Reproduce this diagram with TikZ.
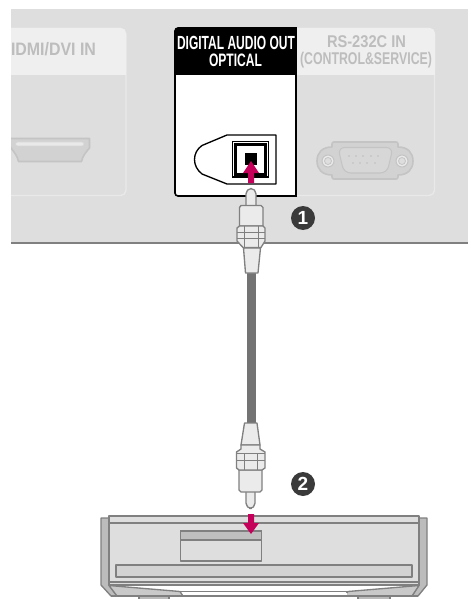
\documentclass[tikz,border=0pt]{standalone}
\usepackage{fontspec}
\usepackage{graphicx}
\setmainfont{Liberation Sans}
\newlength\pxu \setlength\pxu{0.75pt}
\newcommand{\fitw}[3]{\fontsize{#2\pxu}{#2\pxu}\selectfont\bfseries\resizebox{#1\pxu}{\height}{#3}}
\definecolor{panel}{HTML}{DEDEDE}
\definecolor{slothead}{HTML}{EFEFEF}
\definecolor{slotline}{HTML}{E9E9E9}
\definecolor{fade}{HTML}{BDBDBD}
\definecolor{fadeline}{HTML}{C4C4C4}
\definecolor{fadefill}{HTML}{D2D2D2}
\definecolor{pink}{HTML}{C4005A}
\definecolor{grayline}{HTML}{808080}
\definecolor{plugfill}{HTML}{EBEBEB}
\definecolor{sidefill}{HTML}{BCBCBC}
\definecolor{badge}{HTML}{3A3A3A}
\tikzset{
  plugpart/.style={draw=grayline,fill=plugfill,line width=1pt,line join=round},
  playerpart/.style={draw=grayline,fill=panel,line width=1pt,line join=round},
  sidepart/.style={draw=grayline,fill=sidefill,line width=1pt,line join=round},
  numbadge/.style={circle,fill=badge,text=white,minimum size=24\pxu,inner sep=0pt,font=\fontsize{19\pxu}{19\pxu}\selectfont\bfseries},
  slotlabel/.style={anchor=base,text=fade,inner sep=0pt},
  blacklabel/.style={anchor=base,text=white,inner sep=0pt},
  faded/.style={draw=fadeline,line width=1pt,line join=round},
}
\begin{document}
\begin{tikzpicture}[x=0.75pt,y=-0.75pt]
\useasboundingbox (0,0) rectangle (468,599);
% panel
\fill[panel] (11,9) rectangle (468,242);
\fill[grayline] (11,241.5) rectangle (468,243.5);
% HDMI slot
\begin{scope}
\clip (11,9) rectangle (468,242);
\draw[slotline,line width=1pt,rounded corners=4] (0,28.5) -- (126,28.5) -- (126,195.5) -- (0,195.5);
\fill[slothead,rounded corners=4] (0,28) -- (126,28) -- (126,75) -- (0,75) -- cycle;
\fill[slothead] (0,70) rectangle (126,75);
\draw[faded,fill=fadefill,line width=1.2pt] (5,138.5) -- (89.5,138.5) -- (89.5,148) .. controls (86,152) and (82.5,156) .. (81.5,161.5) -- (18.5,161.5) .. controls (17.5,156) and (14,152) .. (11,148) -- (5,138.5) -- cycle;
\draw[draw=fadeline!70,fill=slotline,line width=.6pt,rounded corners=1.5] (15.5,142) rectangle (84,146);
\end{scope}
\node[slotlabel] (hdmi) at (53.5,56) {\fitw{85}{18}{IDMI/DVI IN}};
% RS232 slot
\draw[slotline,line width=1pt,rounded corners=4] (290,28.5) -- (434.5,28.5) -- (434.5,195.5) -- (290,195.5);
\fill[slothead,rounded corners=4] (290,28) -- (435,28) -- (435,75) -- (290,75) -- cycle;
\fill[slothead] (290,70) rectangle (435,75);
\node[slotlabel] (rsone) at (366.5,48) {\fitw{79}{17}{RS-232C IN}};
\node[slotlabel] (rstwo) at (366,65) {\fitw{132}{17}{(CONTROL\&SERVICE)}};
% DB9
\draw[faded,fill=fadefill,line width=1.2pt] (332,147) .. controls (322,147) and (317,153) .. (317,161) .. controls (317,169) and (322,175) .. (332,175) -- (332,177) .. controls (332,178.5) and (333,179) .. (334,179) -- (396,179) .. controls (397,179) and (398,178.5) .. (398,177) -- (398,175) .. controls (408,175) and (413,169) .. (413,161) .. controls (413,153) and (408,147) .. (398,147) -- (398,144) .. controls (398,142.5) and (397,142) .. (396,142) -- (334,142) .. controls (333,142) and (332,142.5) .. (332,144) -- cycle;
\draw[draw=fadeline,fill=panel!97!black,line width=.8pt,rounded corners=5] (338,147.5) -- (393,147.5) -- (387,173) -- (344,173) -- cycle;
\foreach \cx in {328,402}{
  \draw[draw=fadeline,fill=slotline,line width=.8pt] (\cx,161) circle (6);
  \draw[draw=fadeline,fill=panel,line width=.6pt] (\cx,161) circle (3.5);
}
\foreach \cx in {349,356,363,371,378}{\fill[fade] (\cx,156) circle (.9);}
\foreach \cx in {353,360,367,375}{\fill[fade] (\cx,163) circle (.9);}
% digital box
\draw[black,fill=white,line width=1.2pt,line join=miter] (296,28) -- (296,196) -- (178,196) arc[start angle=90,end angle=180,radius=3] -- (175,31) arc[start angle=180,end angle=270,radius=3] -- cycle;
\fill[black] (296,28) -- (296,75) -- (175,75) -- (175,31) arc[start angle=180,end angle=270,radius=3] -- cycle;
\node[blacklabel] (diga) at (236,50) {\fitw{118}{19}{DIGITAL AUDIO OUT}};
\node[blacklabel] (digb) at (235.5,67) {\fitw{53}{18}{OPTICAL}};
% optical port
\draw[black,fill=white,line width=1pt,line join=round] (227,135) -- (276,135) -- (276,184) -- (227,184) -- (202,174) .. controls (197,170) and (194.5,165) .. (194.5,159.5) .. controls (194.5,154) and (197,149) .. (202,145.5) -- cycle;
\draw[black,fill=white,line width=.8pt] (232.5,141.5) rectangle (268.5,177);
\draw[black,fill=white,line width=1.7pt] (235.5,144.5) rectangle (265.5,174.5);
\fill[black] (245,153.5) rectangle (257,165);
% cable
\coordinate (cabletop) at (251.5,272);
\coordinate (cablebot) at (251.5,424);
\draw[draw=grayline!90!black,line width=7pt] (cabletop) -- (cablebot);
% upper plug
\draw[plugpart,rounded corners=4] (246,206) -- (246,188.5) -- (256,188.5) -- (256,206);
\draw[plugpart] (239.5,226) -- (239.5,207.5) -- (241,205.5) -- (261,205.5) -- (263,207.5) -- (263,226) -- cycle;
\draw[plugpart] (243.5,248) -- (245.5,273) -- (258,273) -- (260.5,248) -- cycle;
\draw[plugpart] (237,228) -- (239.5,226) -- (263,226) -- (265,228) -- (265,241) -- (261,247.5) -- (243,247.5) -- (237,241) -- cycle;
\draw[draw=grayline,line width=.7pt] (237,232) -- (265,232) (237,238) -- (265,238) (244,226) -- (244,247) (258,226) -- (258,247);
% lower plug
\draw[plugpart,rounded corners=4] (246,490) -- (246,508.5) -- (255,508.5) -- (255,490);
\draw[plugpart] (239,470) -- (239,490) -- (241,492) -- (260,492) -- (262,490) -- (262,470) -- cycle;
\draw[plugpart] (244.5,423) -- (241,445) -- (260,445) -- (257,423) -- cycle;
\draw[plugpart] (241,445) -- (241,449) -- (236.5,452) -- (236.5,468) -- (239,470) -- (262,470) -- (265,468) -- (265,452) -- (260,449) -- (260,445) -- cycle;
\draw[draw=grayline,line width=.7pt] (236.5,453) -- (265,453) (236.5,460) -- (265,460) (244,453) -- (244,470) (257,453) -- (257,470);
% player
\draw[sidepart] (139,596) rectangle (169,599.5);
\draw[sidepart] (358,596) rectangle (390,599.5);
\draw[sidepart] (109,518) -- (101,518) -- (101,585) -- (111,596) -- (117,596) -- (109,585) -- cycle;
\draw[sidepart] (419,518) -- (427,518) -- (427,585) -- (418,596) -- (412,596) -- (419,585) -- cycle;
\draw[playerpart] (109,516) rectangle (419,523);
\draw[playerpart] (109,523) rectangle (419,585);
\draw[draw=grayline,line width=1.5pt] (109,523) -- (419,523);
\draw[draw=grayline,line width=1.5pt] (109,582) -- (419,582);
\draw[sidepart,fill=sidefill!80!white] (109,585.5) -- (180,591.5) -- (183,596) -- (117,596) -- cycle;
\draw[sidepart,fill=sidefill!80!white] (419,585.5) -- (348,591.5) -- (344,596) -- (412,596) -- cycle;
\fill[white] (183,592.5) rectangle (347,596);
\draw[draw=grayline,line width=1pt] (180,591.5) -- (348,591.5);
\draw[draw=grayline,line width=1pt] (111,596) -- (418,596);
% tray
\draw[playerpart] (180.5,531) rectangle (261.5,561);
\draw[playerpart,fill=sidefill!95!white] (180.5,531) rectangle (261.5,540);
% long slot
\draw[playerpart,fill=sidefill!65!white] (116,565) rectangle (412,577);
% arrows
\fill[pink] (248,514) -- (254,514) -- (254,523) -- (259,523) -- (251,534) -- (243,523) -- (248,523) -- cycle;
\fill[pink] (248,183) -- (254,183) -- (254,173) -- (259,173) -- (251,161) -- (243,173) -- (248,173) -- cycle;
% badges
\node[numbadge] (one) at (303,218) {1};
\node[numbadge] (two) at (303,484) {2};
\end{tikzpicture}
\end{document}
